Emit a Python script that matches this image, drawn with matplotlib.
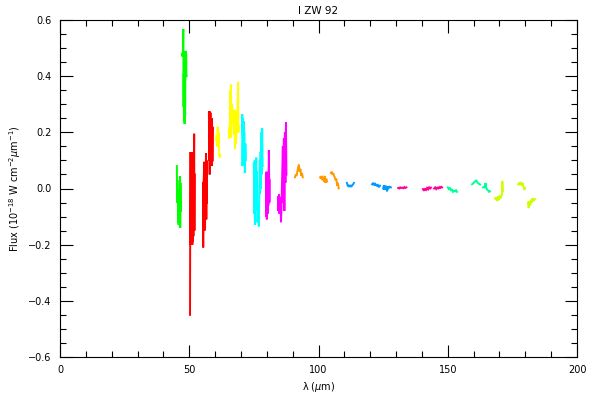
#!/usr/bin/env python3
"""Spectrum of I ZW 92: detector segments of flux vs. wavelength."""

import matplotlib

matplotlib.use("Agg")
import matplotlib.pyplot as plt
from matplotlib.ticker import MultipleLocator

# one entry per detector segment
segment_colors = [
    "#00ff00", "#00ff00",
    "#ff0000", "#ff0000", "#ff0000",
    "#ffff00", "#ffff00",
    "#00ffff", "#00ffff",
    "#ff00ff", "#ff00ff",
    "#ff9900", "#ff9900", "#ff9900",
    "#0099ff", "#0099ff", "#0099ff",
    "#ff0099", "#ff0099", "#ff0099",
    "#00ff99", "#00ff99", "#00ff99",
    "#ccff00", "#ccff00", "#ccff00",
]

segment_wavelengths = [
    [45.2, 45.3, 45.4, 45.5, 45.6, 45.7, 45.8, 45.9, 46.0, 46.1, 46.2, 46.3, 46.4, 46.5, 46.6, 46.7],
    [47.2, 47.4, 47.6, 47.7, 47.8, 47.9, 48.0, 48.1, 48.2, 48.3, 48.4, 48.5, 48.6, 48.7, 48.8, 48.9, 49.0],
    [50.3, 50.35, 50.5, 50.6, 50.7, 50.8, 50.9, 51.0, 51.1, 51.2, 51.3, 51.4, 51.5, 51.6, 51.9, 52.0, 52.1],
    [55.3, 55.4, 55.5, 55.8, 55.9, 56.0, 56.1, 56.2, 56.5, 56.6, 56.7, 56.8],
    [57.6, 57.7, 57.8, 57.9, 58.0, 58.1, 58.2, 58.3, 58.5, 58.6, 58.7, 58.8, 59.0, 59.1],
    [60.4, 60.6, 60.8, 61.0, 61.2, 61.4, 61.6, 61.8, 62.0],
    [65.4, 65.5, 65.7, 65.8, 66.0, 66.1, 66.3, 66.5, 66.7, 67.3, 67.5, 67.7, 67.9, 68.1, 68.3, 68.5, 68.7, 68.9, 69.0, 69.1],
    [70.4, 70.5, 70.6, 70.8, 70.9, 71.0, 71.1, 71.3, 71.5, 71.7, 71.9],
    [75.0, 75.1, 75.3, 75.4, 75.6, 75.7, 75.9, 76.0, 76.2, 76.3, 76.8, 76.9, 77.3, 77.4, 77.6, 77.7, 77.9, 78.0, 78.2, 78.4],
    [79.7, 79.8, 79.9, 80.0, 80.2, 80.3, 80.5, 80.6, 80.8, 81.0, 81.1],
    [84.3, 84.5, 84.7, 84.9, 85.1, 85.3, 85.5, 85.7, 86.2, 86.4, 86.6, 86.8, 87.0, 87.2, 87.4, 87.6],
    [90.9, 91.2, 91.5, 91.8, 92.1, 92.4, 92.7, 93.0, 93.3, 93.6, 93.9],
    [100.6, 100.9, 101.2, 101.5, 101.8, 102.1, 102.4, 102.7, 103.0, 103.3],
    [104.8, 105.1, 105.4, 105.7, 106.0, 106.3, 106.6, 106.9, 107.2, 107.5, 107.8],
    [111.0, 111.3, 111.6, 111.9, 112.2, 112.5, 112.8, 113.1, 113.4, 113.7],
    [120.7, 121.0, 121.4, 121.7, 122.0, 122.4, 122.7, 123.0, 123.4, 123.8],
    [125.0, 125.3, 125.6, 125.9, 126.2, 126.5, 126.9, 127.2, 127.6, 128.0],
    [130.8, 131.2, 131.6, 132.0, 132.4, 132.8, 133.2, 133.6, 134.0],
    [140.4, 140.8, 141.2, 141.6, 142.0, 142.4, 142.8, 143.2, 143.5],
    [144.7, 145.1, 145.5, 145.9, 146.3, 146.7, 147.1, 147.5, 147.8],
    [150.0, 150.4, 150.8, 151.2, 151.6, 152.0, 152.4, 152.8, 153.2, 153.6],
    [159.4, 159.8, 160.2, 160.6, 161.0, 161.4, 161.8, 162.2, 162.5],
    [163.6, 164.0, 164.4, 164.6, 164.8, 165.1, 165.4, 165.7, 166.0, 166.3],
    [168.3, 168.6, 168.9, 169.2, 169.5, 169.8, 170.1, 170.4, 170.7, 171.0, 171.1, 171.3],
    [177.2, 177.5, 177.8, 178.1, 178.4, 178.7, 179.0, 179.3, 179.6, 179.9],
    [181.0, 181.3, 181.6, 181.9, 182.2, 182.5, 182.8, 183.1, 183.4, 183.8],
]

segment_fluxes = [
    [0.08, -0.05, 0.03, -0.03, -0.006, -0.12, -0.01, -0.13, -0.02, -0.10, -0.03, -0.12, 0.043, -0.14, 0.02, -0.08],
    [0.48, 0.47, 0.49, 0.568, 0.29, 0.41, 0.24, 0.40, 0.23, 0.38, 0.26, 0.41, 0.49, 0.40, 0.48, 0.41, 0.40],
    [-0.45, -0.21, 0.13, -0.20, 0.12, -0.19, 0.13, -0.18, 0.12, -0.20, 0.10, -0.19, 0.06, -0.17, 0.195, -0.15, 0.05],
    [0.02, -0.21, 0.0, 0.095, -0.15, 0.08, -0.14, 0.0, 0.126, -0.11, 0.10, -0.05],
    [0.27, 0.10, 0.276, 0.05, 0.25, 0.09, 0.27, 0.12, 0.24, 0.10, 0.25, 0.08, 0.22, 0.10],
    [0.17, 0.19, 0.15, 0.22, 0.16, 0.20, 0.12, 0.11, 0.12],
    [0.18, 0.22, 0.20, 0.35, 0.18, 0.37, 0.23, 0.30, 0.28, 0.19, 0.28, 0.14, 0.27, 0.16, 0.26, 0.20, 0.30, 0.38, 0.20, 0.22],
    [0.20, 0.265, 0.08, 0.25, 0.09, 0.24, 0.12, 0.20, 0.055, 0.16, 0.10],
    [0.09, -0.09, 0.10, -0.13, 0.10, -0.05, 0.11, -0.08, 0.06, -0.12, -0.10, -0.135, 0.10, -0.02, 0.13, 0.0, 0.20, 0.05, 0.215, 0.08],
    [0.05, -0.10, 0.06, -0.11, 0.03, -0.09, 0.05, -0.06, 0.137, -0.05, 0.03],
    [-0.03, -0.08, -0.02, -0.09, -0.03, -0.06, -0.12, -0.05, 0.15, -0.05, 0.18, -0.08, 0.20, 0.02, 0.235, 0.05],
    [0.04, 0.05, 0.045, 0.06, 0.075, 0.085, 0.06, 0.07, 0.045, 0.055, 0.04],
    [0.04, 0.035, 0.045, 0.03, 0.04, 0.025, 0.045, 0.02, 0.035, 0.025],
    [0.055, 0.06, 0.05, 0.055, 0.045, 0.04, 0.03, 0.035, 0.01, 0.02, 0.0],
    [0.02, 0.01, 0.008, 0.012, 0.006, 0.01, 0.008, 0.012, 0.015, 0.02],
    [0.015, 0.018, 0.012, 0.02, 0.01, 0.015, 0.008, 0.012, 0.006, 0.01],
    [0.0, 0.012, -0.005, 0.01, 0.005, -0.01, 0.008, 0.002, 0.006, 0.004],
    [0.002, 0.0, 0.004, 0.002, 0.003, 0.001, 0.005, 0.002, 0.004],
    [-0.002, -0.008, 0.0, -0.005, 0.002, -0.003, 0.004, 0.0, 0.003],
    [0.0, 0.004, -0.002, 0.003, 0.0, 0.005, 0.002, 0.006, 0.004],
    [0.004, -0.002, 0.003, -0.006, -0.004, -0.012, -0.008, -0.01, -0.006, -0.012],
    [0.015, 0.018, 0.022, 0.025, 0.03, 0.022, 0.018, 0.016, 0.014],
    [0.004, 0.006, 0.002, 0.02, 0.005, -0.002, -0.006, -0.008, -0.012, -0.01],
    [-0.035, -0.04, -0.03, -0.045, -0.028, -0.04, -0.025, -0.035, -0.03, -0.02, 0.027, -0.01],
    [0.015, 0.02, 0.012, 0.023, 0.018, 0.01, 0.02, 0.005, -0.005, 0.002],
    [-0.05, -0.07, -0.045, -0.06, -0.04, -0.05, -0.034, -0.045, -0.04, -0.038],
]

x_limits = (0, 200)
y_limits = (-0.6, 0.6)


def main() -> int:
    plt.rcParams["font.family"] = "DejaVu Sans"
    fig = plt.figure(figsize=(6, 4), dpi=100)
    ax = fig.add_axes([0.1, 0.1075, 0.8617, 0.8425])

    for wl, flux, color in zip(segment_wavelengths, segment_fluxes, segment_colors):
        ax.plot(wl, flux, color=color, linewidth=1.4, solid_joinstyle="miter")

    ax.set_xlim(*x_limits)
    ax.set_ylim(*y_limits)
    ax.xaxis.set_major_locator(MultipleLocator(50))
    ax.xaxis.set_minor_locator(MultipleLocator(10))
    ax.yaxis.set_major_locator(MultipleLocator(0.2))
    ax.yaxis.set_minor_locator(MultipleLocator(0.05))
    ax.yaxis.set_major_formatter(plt.FuncFormatter(lambda v, _: f"{v:.1f}".replace("-", "\u2212")))
    ax.tick_params(which="both", direction="in", top=True, right=True, labelsize=7, width=0.8, pad=6)
    ax.tick_params(which="major", length=9)
    ax.tick_params(which="minor", length=4.5)
    for spine in ax.spines.values():
        spine.set_linewidth(0.8)

    ax.set_title("I ZW 92", fontsize=7.5, pad=4)
    ax.set_xlabel("\u03bb ($\\mu$m)", fontsize=7, labelpad=3)
    ax.set_ylabel("Flux (10$^{-18}$ W cm$^{-2}$$\\mu$m$^{-1}$)", fontsize=7, labelpad=4)

    fig.savefig("out.png", dpi=100)
    plt.close(fig)
    return 0


if __name__ == "__main__":
    raise SystemExit(main())
